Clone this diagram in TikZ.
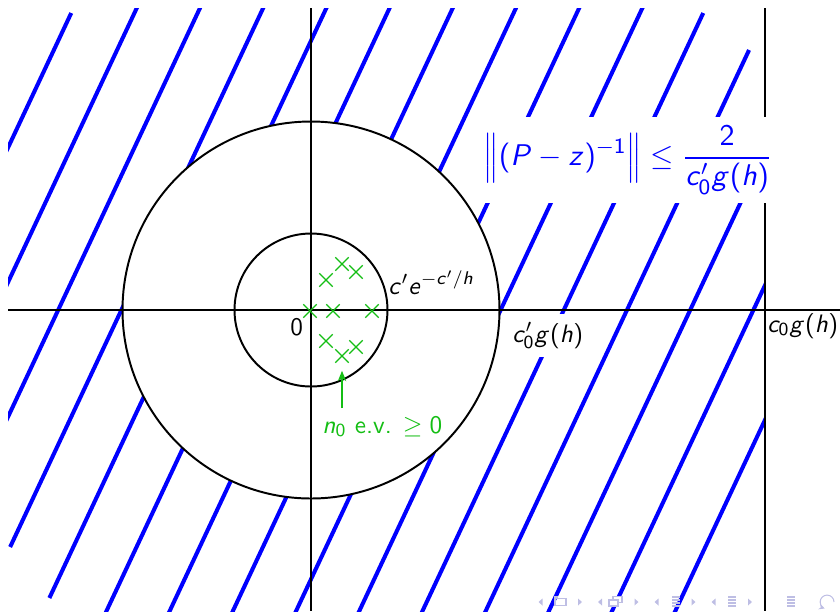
\documentclass[tikz,border=0pt]{standalone}
\usetikzlibrary{shapes.misc,arrows.meta}
\DeclareSymbolFont{sfoperators}{OT1}{cmss}{m}{n}
\DeclareSymbolFont{sfletters}{OT1}{cmss}{m}{sl}
\DeclareMathSymbol{0}{\mathalpha}{sfoperators}{"30}
\DeclareMathSymbol{1}{\mathalpha}{sfoperators}{"31}
\DeclareMathSymbol{2}{\mathalpha}{sfoperators}{"32}
\DeclareMathSymbol{(}{\mathopen}{sfoperators}{"28}
\DeclareMathSymbol{)}{\mathclose}{sfoperators}{"29}
\DeclareMathSymbol{c}{\mathalpha}{sfletters}{"63}
\DeclareMathSymbol{e}{\mathalpha}{sfletters}{"65}
\DeclareMathSymbol{g}{\mathalpha}{sfletters}{"67}
\DeclareMathSymbol{h}{\mathalpha}{sfletters}{"68}
\DeclareMathSymbol{n}{\mathalpha}{sfletters}{"6E}
\DeclareMathSymbol{z}{\mathalpha}{sfletters}{"7A}
\DeclareMathSymbol{P}{\mathalpha}{sfletters}{"50}
\definecolor{hatchblue}{RGB}{0,0,255}
\definecolor{evgreen}{RGB}{20,190,20}
\definecolor{navc}{RGB}{190,190,228}
\tikzset{
  axis/.style={black, line width=0.85pt},
  hatch/.style={hatchblue, line width=1.75pt},
  lbl/.style={inner sep=0pt, font=\fontsize{10.95}{13}\selectfont\sffamily},
  whitelbl/.style={inner sep=3.65pt, fill=white, font=\fontsize{10.95}{13}\selectfont\sffamily},
  formula/.style={inner sep=3pt, fill=white, text=hatchblue, scale=1.185, font=\fontsize{10.95}{13}\selectfont\sffamily},
  ev/.style={draw=evgreen, cross out, line width=0.6pt, minimum size=5.2pt, inner sep=0pt},
  evlabel/.style={inner sep=0pt, text=evgreen, font=\fontsize{10.95}{13}\selectfont\sffamily},
  evarrow/.style={evgreen, line width=1.1pt, -{Stealth[length=4.5pt,width=3.6pt]}},
  navsym/.style={navc, line width=0.45pt}
}
\begin{document}
\begin{tikzpicture}[x=0.4336pt, y=-0.4336pt]
\useasboundingbox (0,0) rectangle (840,611);
\coordinate (O) at (311,310);
% hatching outside the big disc
\begin{scope}
  \clip (8,8) rectangle (765,611);
  \foreach \k/\yt/\yb in {-6/13/620,-5/0/620,-4/0/620,-3/0/547,-2/0/598,-1/0/620,0/0/620,1/0/620,2/0/620,3/0/620,4/13/620,5/50/620,6/0/620,7/0/620,8/0/620}
    \draw[hatch] ({311+63.2*\k+(310-\yt)*0.4695},\yt) -- ({311+63.2*\k+(310-\yb)*0.4695},\yb);
\end{scope}
\fill[white] (O) circle[radius=81.73pt];
% axes and circles
\coordinate (xl) at (8,310);
\coordinate (xr) at (840,310);
\coordinate (yt) at (311,8);
\coordinate (yb) at (311,611);
\coordinate (vt) at (765,8);
\coordinate (vb) at (765,611);
\draw[axis] (xl) -- (xr);
\draw[axis] (yt) -- (yb);
\draw[axis] (vt) -- (vb);
\draw[axis] (O) circle[radius=33.17pt];
\draw[axis] (O) circle[radius=81.73pt];
% eigenvalues
\node[ev] (e1) at (310,311) {};
\node[ev] (e2) at (333,311) {};
\node[ev] (e3) at (372,311) {};
\node[ev] (e4) at (326,280) {};
\node[ev] (e5) at (342,264) {};
\node[ev] (e6) at (356,272) {};
\node[ev] (e7) at (326,341) {};
\node[ev] (e8) at (342,356) {};
\node[ev] (e9) at (356,347) {};
\coordinate (arrowfoot) at (342,408);
\draw[evarrow, shorten >=3.5pt] (arrowfoot) -- (e8);
\node[evlabel, anchor=base west] (evtext) at (322,433) {$n_0$ e.v. $\geq 0$};
% labels
\node[lbl, anchor=base west] (zero) at (290,335) {$0$};
\node[lbl, anchor=base west] (cpe) at (388,294) {$c'e^{-c'/h}$};
\node[whitelbl, anchor=base west] (cpg) at (503.6,342) {$c'_0g(h)$};
\node[lbl, anchor=base west] (cg) at (767,332) {$c_0g(h)$};
\node[formula] (res) at (628,160) {$\displaystyle\left\|(P-z)^{-1}\right\|\leq\frac{2}{c'_0g(h)}$};
% navigation symbols
\foreach \c in {540.5,600,656.5,713.5}
  \fill[navc] (\c+2,598.5) -- (\c-2,602) -- (\c+2,605.5) -- cycle;
\foreach \c in {580,636.5,693.5,750}
  \fill[navc] (\c-2,598.5) -- (\c+2,602) -- (\c-2,605.5) -- cycle;
\draw[navsym] (555,598.5) rectangle (566,605.5);
\draw[navsym] (554,597) -- (558,597);
\draw[navsym, fill=white] (613,596.5) rectangle (622,602.5);
\draw[navsym, fill=white] (609,600) rectangle (618,606);
\foreach \c in {676,732,791}{
  \draw[navsym] (\c-4,597) -- (\c+4,597);
  \draw[navsym] (\c-4,600) -- (\c+4,600);
  \draw[navsym] (\c-4,603) -- (\c+4,603);
  \draw[navsym] (\c-4,606) -- (\c+4,606);
}
\draw[navsym, -{Stealth[length=2.5pt,width=2.5pt]}] (834,602) arc[start angle=0, end angle=250, radius=3pt];
\end{tikzpicture}
\end{document}
